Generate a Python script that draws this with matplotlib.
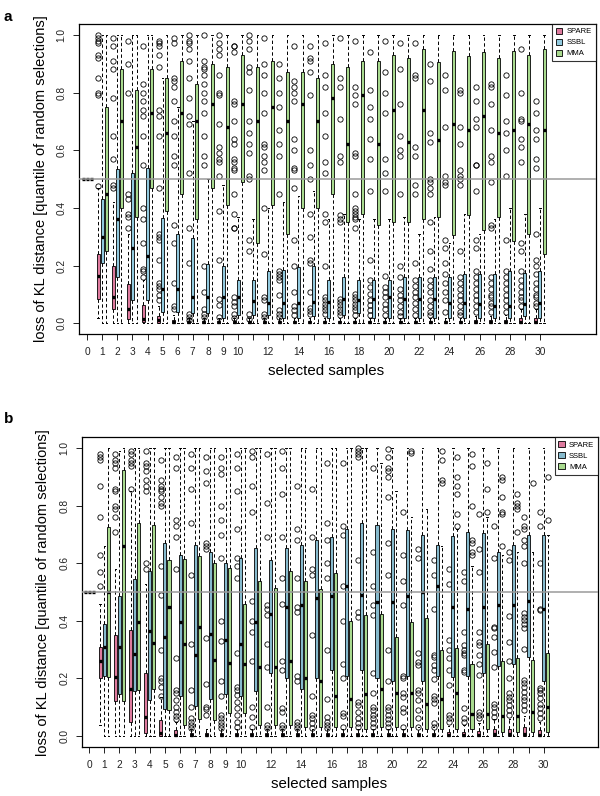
import matplotlib.pyplot as plt
from matplotlib.patches import Patch

plt.rcParams['font.family'] = ['Liberation Sans', 'DejaVu Sans']

# ---- data ----
samples = [0, 1, 2, 3, 4, 5, 6, 7, 8, 9, 10, 11, 12, 13, 14, 15,
           16, 17, 18, 19, 20, 21, 22, 23, 24, 25, 26, 27, 28, 29, 30]
tick_labels = ['0', '1', '2', '3', '4', '5', '6', '7', '8', '9', '10', '', '12', '', '14', '',
               '16', '', '18', '', '20', '', '22', '', '24', '', '26', '', '28', '', '30']
methods = ['SPARE', 'SSBL', 'MMA']

# panel a -- SPARE
a_spare_q1 = [0.5, 0.085, 0.05, 0.015, 0.005, 0.0, 0.0, 0.0, 0.0, 0.0, 0.0, 0.0, 0.0, 0.0, 0.0, 0.0,
              0.0, 0.0, 0.0, 0.0, 0.0, 0.0, 0.0, 0.0, 0.0, 0.0, 0.0, 0.0, 0.0, 0.0, 0.0]
a_spare_med = [0.5, 0.165, 0.09, 0.05, 0.015, 0.01, 0.005, 0.003, 0.003, 0.003, 0.003, 0.003, 0.003, 0.003, 0.003, 0.003,
               0.003, 0.003, 0.003, 0.003, 0.003, 0.003, 0.003, 0.003, 0.003, 0.003, 0.003, 0.003, 0.003, 0.005, 0.005]
a_spare_q3 = [0.5, 0.24, 0.20, 0.135, 0.065, 0.025, 0.012, 0.008, 0.008, 0.008, 0.008, 0.008, 0.008, 0.008, 0.008, 0.008,
              0.008, 0.008, 0.008, 0.008, 0.008, 0.008, 0.008, 0.008, 0.008, 0.008, 0.01, 0.01, 0.012, 0.02, 0.02]
a_spare_lo = [0.5, 0.02, 0.0, 0.0, 0.0, 0.0, 0.0, 0.0, 0.0, 0.0, 0.0, 0.0, 0.0, 0.0, 0.0, 0.0,
              0.0, 0.0, 0.0, 0.0, 0.0, 0.0, 0.0, 0.0, 0.0, 0.0, 0.0, 0.0, 0.0, 0.0, 0.0]
a_spare_hi = [0.5, 0.47, 0.42, 0.31, 0.15, 0.06, 0.03, 0.02, 0.02, 0.02, 0.02, 0.02, 0.02, 0.02, 0.02, 0.02,
              0.02, 0.02, 0.02, 0.02, 0.02, 0.02, 0.02, 0.02, 0.02, 0.02, 0.025, 0.025, 0.03, 0.05, 0.05]
a_spare_out = [
    [],
    [1.0, 0.99, 0.98, 0.97, 0.93, 0.92, 0.85, 0.80, 0.79, 0.475],
    [0.99, 0.96, 0.91, 0.88, 0.78, 0.65, 0.57, 0.48, 0.47],
    [0.98, 0.90, 0.80, 0.45, 0.43, 0.38, 0.37, 0.33],
    [0.96, 0.83, 0.80, 0.77, 0.74, 0.72, 0.65, 0.55, 0.40, 0.36, 0.28, 0.19, 0.18, 0.16],
    [0.98, 0.97, 0.96, 0.93, 0.89, 0.74, 0.72, 0.65, 0.47, 0.31, 0.30, 0.29, 0.22, 0.14, 0.13, 0.12, 0.10, 0.08],
    [0.99, 0.97, 0.85, 0.84, 0.82, 0.77, 0.70, 0.65, 0.58, 0.55, 0.34, 0.28, 0.14, 0.06, 0.05],
    [1.0, 0.98, 0.97, 0.95, 0.91, 0.85, 0.78, 0.72, 0.69, 0.52, 0.33, 0.21, 0.034, 0.022, 0.013],
    [1.0, 0.91, 0.89, 0.88, 0.86, 0.83, 0.80, 0.77, 0.73, 0.65, 0.58, 0.55, 0.20, 0.11, 0.05, 0.034, 0.022],
    [1.0, 0.97, 0.95, 0.93, 0.86, 0.80, 0.79, 0.69, 0.61, 0.59, 0.57, 0.56, 0.51, 0.39, 0.22, 0.086, 0.062, 0.022],
    [0.96, 0.96, 0.94, 0.77, 0.76, 0.70, 0.64, 0.62, 0.57, 0.56, 0.54, 0.53, 0.45, 0.38, 0.33, 0.33, 0.09, 0.074, 0.059, 0.034, 0.02],
    [1.0, 0.98, 0.95, 0.89, 0.87, 0.81, 0.70, 0.66, 0.62, 0.59, 0.51, 0.50, 0.29, 0.25, 0.034, 0.016],
    [0.99, 0.90, 0.86, 0.80, 0.73, 0.62, 0.61, 0.58, 0.56, 0.53, 0.40, 0.24, 0.09, 0.08, 0.034, 0.022],
    [0.90, 0.85, 0.80, 0.75, 0.67, 0.62, 0.58, 0.45, 0.18, 0.17, 0.16, 0.15, 0.10, 0.045, 0.034, 0.022],
    [0.96, 0.84, 0.82, 0.80, 0.77, 0.64, 0.60, 0.54, 0.53, 0.47, 0.29, 0.20, 0.11, 0.06, 0.045, 0.028],
    [0.96, 0.92, 0.91, 0.87, 0.79, 0.60, 0.55, 0.50, 0.38, 0.30, 0.22, 0.21, 0.11, 0.054, 0.043, 0.031],
    [0.97, 0.86, 0.82, 0.73, 0.65, 0.56, 0.52, 0.38, 0.35, 0.20, 0.09, 0.08, 0.068, 0.057, 0.045, 0.034],
    [0.99, 0.85, 0.82, 0.71, 0.58, 0.56, 0.375, 0.363, 0.352, 0.086, 0.074, 0.062, 0.051, 0.039, 0.028],
    [0.98, 0.82, 0.79, 0.76, 0.59, 0.58, 0.45, 0.40, 0.39, 0.38, 0.37, 0.36, 0.33, 0.103, 0.091, 0.08, 0.068, 0.057, 0.045, 0.028],
    [0.94, 0.81, 0.75, 0.71, 0.64, 0.57, 0.46, 0.22, 0.15, 0.126, 0.103, 0.08, 0.062, 0.045, 0.028],
    [0.98, 0.87, 0.80, 0.73, 0.57, 0.52, 0.46, 0.163, 0.126, 0.109, 0.091, 0.068, 0.051, 0.028],
    [0.97, 0.88, 0.76, 0.65, 0.60, 0.58, 0.45, 0.20, 0.16, 0.12, 0.10, 0.08, 0.06, 0.04, 0.025],
    [0.97, 0.86, 0.85, 0.61, 0.58, 0.48, 0.45, 0.21, 0.15, 0.13, 0.11, 0.09, 0.07, 0.05, 0.03],
    [0.90, 0.84, 0.66, 0.63, 0.50, 0.49, 0.47, 0.45, 0.35, 0.25, 0.19, 0.15, 0.13, 0.11, 0.08, 0.06, 0.04, 0.03],
    [0.86, 0.81, 0.68, 0.51, 0.49, 0.48, 0.29, 0.26, 0.21, 0.17, 0.14, 0.11, 0.08, 0.04],
    [0.81, 0.80, 0.68, 0.62, 0.53, 0.51, 0.50, 0.48, 0.25, 0.16, 0.14, 0.12, 0.10, 0.08, 0.06, 0.04, 0.03],
    [0.82, 0.77, 0.71, 0.68, 0.55, 0.55, 0.46, 0.29, 0.26, 0.18, 0.16, 0.14, 0.12, 0.10, 0.08, 0.06, 0.04],
    [0.83, 0.82, 0.76, 0.67, 0.58, 0.56, 0.49, 0.34, 0.33, 0.16, 0.14, 0.12, 0.10, 0.09, 0.07, 0.06, 0.04],
    [0.86, 0.79, 0.70, 0.66, 0.60, 0.51, 0.29, 0.18, 0.16, 0.14, 0.12, 0.10, 0.08, 0.06, 0.04],
    [0.95, 0.80, 0.71, 0.70, 0.64, 0.61, 0.56, 0.28, 0.25, 0.18, 0.15, 0.13, 0.11, 0.09, 0.08, 0.06],
    [0.77, 0.73, 0.67, 0.64, 0.57, 0.54, 0.31, 0.22, 0.20, 0.17, 0.14, 0.12, 0.10, 0.09, 0.07, 0.06],
]

# panel a -- SSBL
a_ssbl_q1 = [0.5, 0.21, 0.16, 0.08, 0.08, 0.04, 0.04, 0.035, 0.035, 0.02, 0.03, 0.03, 0.03, 0.02, 0.02, 0.025,
             0.02, 0.03, 0.035, 0.02, 0.02, 0.02, 0.02, 0.02, 0.02, 0.02, 0.02, 0.02, 0.02, 0.025, 0.02]
a_ssbl_med = [0.5, 0.30, 0.36, 0.26, 0.235, 0.12, 0.12, 0.09, 0.09, 0.09, 0.09, 0.077, 0.072, 0.07, 0.072, 0.075,
              0.075, 0.083, 0.08, 0.083, 0.09, 0.083, 0.086, 0.083, 0.072, 0.072, 0.066, 0.06, 0.06, 0.066, 0.072]
a_ssbl_q3 = [0.5, 0.43, 0.535, 0.52, 0.54, 0.365, 0.31, 0.295, 0.205, 0.20, 0.15, 0.15, 0.18, 0.185, 0.195, 0.20,
             0.15, 0.16, 0.15, 0.15, 0.15, 0.16, 0.16, 0.16, 0.16, 0.17, 0.17, 0.17, 0.18, 0.175, 0.18]
a_ssbl_lo = [0.5, 0.0, 0.0, 0.0, 0.0, 0.0, 0.0, 0.0, 0.0, 0.0, 0.0, 0.0, 0.0, 0.0, 0.0, 0.0,
             0.0, 0.0, 0.0, 0.0, 0.0, 0.0, 0.0, 0.0, 0.0, 0.0, 0.0, 0.0, 0.0, 0.0, 0.0]
a_ssbl_hi = [0.5, 1.0, 1.0, 1.0, 1.0, 0.85, 0.75, 0.70, 0.50, 0.48, 0.37, 0.36, 0.40, 0.42, 0.44, 0.46,
             0.36, 0.38, 0.36, 0.36, 0.36, 0.37, 0.31, 0.37, 0.28, 0.38, 0.31, 0.36, 0.40, 0.38, 0.40]

# panel a -- MMA
a_mma_q1 = [0.5, 0.25, 0.40, 0.37, 0.47, 0.39, 0.45, 0.36, 0.47, 0.41, 0.49, 0.28, 0.41, 0.31, 0.40, 0.40,
            0.45, 0.35, 0.38, 0.34, 0.35, 0.35, 0.36, 0.37, 0.305, 0.375, 0.325, 0.37, 0.285, 0.31, 0.24]
a_mma_med = [0.5, 0.45, 0.70, 0.61, 0.73, 0.66, 0.73, 0.70, 0.76, 0.68, 0.76, 0.70, 0.75, 0.70, 0.76, 0.70,
             0.78, 0.62, 0.79, 0.62, 0.74, 0.63, 0.74, 0.635, 0.69, 0.67, 0.72, 0.66, 0.67, 0.69, 0.67]
a_mma_q3 = [0.5, 0.75, 0.88, 0.81, 0.88, 0.85, 0.91, 0.83, 0.90, 0.89, 0.93, 0.89, 0.91, 0.87, 0.87, 0.85,
            0.90, 0.89, 0.91, 0.91, 0.93, 0.92, 0.95, 0.905, 0.945, 0.925, 0.94, 0.92, 0.945, 0.93, 0.95]
a_mma_lo = [0.5, 0.0, 0.0, 0.0, 0.0, 0.0, 0.0, 0.0, 0.0, 0.0, 0.0, 0.0, 0.0, 0.0, 0.0, 0.0,
            0.0, 0.0, 0.0, 0.0, 0.0, 0.0, 0.0, 0.0, 0.0, 0.0, 0.0, 0.0, 0.0, 0.0, 0.0]
a_mma_hi = [0.5, 1.0, 1.0, 1.0, 1.0, 1.0, 1.0, 1.0, 1.0, 1.0, 1.0, 1.0, 1.0, 1.0, 1.0, 1.0,
            1.0, 1.0, 1.0, 1.0, 1.0, 1.0, 1.0, 1.0, 1.0, 1.0, 1.0, 1.0, 1.0, 1.0, 1.0]

# panel b -- SPARE
b_spare_q1 = [0.5, 0.20, 0.12, 0.05, 0.01, 0.0, 0.0, 0.0, 0.0, 0.0, 0.0, 0.0, 0.0, 0.0, 0.0, 0.0,
              0.0, 0.0, 0.0, 0.0, 0.0, 0.0, 0.0, 0.0, 0.0, 0.0, 0.0, 0.0, 0.0, 0.0, 0.0]
b_spare_med = [0.5, 0.26, 0.205, 0.165, 0.065, 0.01, 0.004, 0.003, 0.003, 0.003, 0.003, 0.003, 0.003, 0.003, 0.003, 0.003,
               0.003, 0.003, 0.003, 0.003, 0.003, 0.003, 0.003, 0.003, 0.004, 0.004, 0.005, 0.006, 0.006, 0.007, 0.005]
b_spare_q3 = [0.5, 0.31, 0.35, 0.37, 0.22, 0.055, 0.02, 0.01, 0.01, 0.01, 0.01, 0.01, 0.01, 0.01, 0.01, 0.01,
              0.01, 0.01, 0.01, 0.01, 0.01, 0.01, 0.012, 0.012, 0.015, 0.015, 0.018, 0.025, 0.025, 0.03, 0.02]
b_spare_lo = [0.5, 0.04, 0.0, 0.0, 0.0, 0.0, 0.0, 0.0, 0.0, 0.0, 0.0, 0.0, 0.0, 0.0, 0.0, 0.0,
              0.0, 0.0, 0.0, 0.0, 0.0, 0.0, 0.0, 0.0, 0.0, 0.0, 0.0, 0.0, 0.0, 0.0, 0.0]
b_spare_hi = [0.5, 0.46, 0.58, 0.85, 0.53, 0.135, 0.05, 0.025, 0.025, 0.025, 0.025, 0.025, 0.025, 0.025, 0.025, 0.025,
              0.025, 0.025, 0.025, 0.025, 0.025, 0.025, 0.03, 0.03, 0.035, 0.04, 0.045, 0.06, 0.06, 0.07, 0.05]
b_spare_out = [
    [],
    [0.98, 0.97, 0.96, 0.87, 0.76, 0.63, 0.57, 0.52],
    [0.98, 0.96, 0.95, 0.93, 0.86, 0.85, 0.80, 0.79, 0.76, 0.71],
    [0.99, 0.98, 0.96, 0.95, 0.94, 0.86],
    [0.99, 0.95, 0.94, 0.92, 0.89, 0.87, 0.85, 0.60, 0.58],
    [0.96, 0.89, 0.87, 0.86, 0.85, 0.83, 0.81, 0.80, 0.59, 0.49, 0.30, 0.20, 0.19, 0.17, 0.14],
    [0.97, 0.93, 0.75, 0.73, 0.69, 0.58, 0.27, 0.16, 0.15, 0.125, 0.10, 0.085, 0.07, 0.06],
    [0.98, 0.93, 0.86, 0.74, 0.56, 0.32, 0.16, 0.10, 0.061, 0.05, 0.038, 0.027],
    [0.97, 0.92, 0.88, 0.67, 0.66, 0.65, 0.34, 0.18, 0.10, 0.093, 0.073],
    [0.97, 0.93, 0.91, 0.80, 0.75, 0.70, 0.62, 0.40, 0.33, 0.19, 0.14, 0.073, 0.061, 0.05, 0.038, 0.027],
    [0.98, 0.93, 0.85, 0.72, 0.62, 0.59, 0.55, 0.29, 0.17, 0.16, 0.143, 0.119, 0.096, 0.073, 0.05, 0.032],
    [0.99, 0.97, 0.87, 0.78, 0.47, 0.40, 0.36, 0.26, 0.102, 0.067, 0.032],
    [0.98, 0.81, 0.69, 0.455, 0.443, 0.42, 0.32, 0.24, 0.102, 0.038, 0.027],
    [0.99, 0.93, 0.84, 0.69, 0.55, 0.46, 0.26, 0.23, 0.096, 0.085, 0.038, 0.027],
    [0.87, 0.72, 0.68, 0.55, 0.45, 0.43, 0.21, 0.19, 0.05, 0.038, 0.027],
    [0.86, 0.69, 0.58, 0.56, 0.35, 0.14, 0.073, 0.061, 0.044, 0.027],
    [0.95, 0.74, 0.68, 0.60, 0.55, 0.30, 0.13, 0.067, 0.05, 0.038, 0.027],
    [0.95, 0.73, 0.70, 0.52, 0.40, 0.25, 0.20, 0.079, 0.07, 0.032],
    [1.0, 0.99, 0.98, 0.97, 0.61, 0.43, 0.414, 0.119, 0.108, 0.085, 0.061, 0.044, 0.032],
    [0.93, 0.64, 0.52, 0.455, 0.42, 0.22, 0.15, 0.102, 0.09, 0.073, 0.061, 0.044, 0.032],
    [0.998, 0.97, 0.93, 0.92, 0.90, 0.83, 0.67, 0.56, 0.30, 0.19, 0.10, 0.09, 0.073, 0.058, 0.044, 0.032],
    [0.78, 0.63, 0.54, 0.455, 0.21, 0.20, 0.15, 0.137, 0.096, 0.085, 0.032],
    [0.65, 0.62, 0.29, 0.258, 0.247, 0.16, 0.148, 0.125, 0.09, 0.061, 0.032],
    [0.61, 0.56, 0.443, 0.281, 0.276, 0.247, 0.229, 0.197, 0.139, 0.127, 0.116, 0.044, 0.032],
    [0.58, 0.53, 0.333, 0.299, 0.27, 0.229, 0.177, 0.073, 0.061, 0.05],
    [0.57, 0.54, 0.362, 0.316, 0.299, 0.287, 0.281, 0.229, 0.223, 0.096, 0.061, 0.05],
    [0.77, 0.65, 0.57, 0.362, 0.328, 0.316, 0.281, 0.252, 0.212, 0.085, 0.073, 0.061],
    [0.73, 0.62, 0.38, 0.374, 0.345, 0.293, 0.241, 0.113, 0.102, 0.085, 0.067],
    [0.64, 0.61, 0.417, 0.328, 0.262, 0.20, 0.148, 0.137, 0.125, 0.108, 0.09, 0.073],
    [0.76, 0.73, 0.72, 0.68, 0.66, 0.60, 0.426, 0.414, 0.403, 0.391, 0.374, 0.301, 0.194, 0.183, 0.171,
     0.154, 0.137, 0.125, 0.108, 0.09],
    [0.78, 0.73, 0.60, 0.443, 0.438, 0.166, 0.16, 0.148, 0.131, 0.113, 0.096, 0.079, 0.061],
]

# panel b -- SSBL
b_ssbl_q1 = [0.5, 0.21, 0.145, 0.155, 0.125, 0.095, 0.14, 0.105, 0.13, 0.145, 0.14, 0.155, 0.22, 0.20, 0.165, 0.20,
             0.23, 0.21, 0.23, 0.20, 0.19, 0.21, 0.19, 0.21, 0.205, 0.21, 0.22, 0.245, 0.25, 0.275, 0.19]
b_ssbl_med = [0.5, 0.31, 0.31, 0.285, 0.365, 0.345, 0.395, 0.28, 0.355, 0.335, 0.32, 0.395, 0.425, 0.45, 0.455, 0.48,
              0.485, 0.52, 0.49, 0.465, 0.465, 0.485, 0.50, 0.52, 0.45, 0.44, 0.45, 0.455, 0.455, 0.47, 0.44]
b_ssbl_q3 = [0.5, 0.39, 0.485, 0.545, 0.575, 0.67, 0.63, 0.665, 0.64, 0.60, 0.62, 0.655, 0.61, 0.655, 0.665, 0.68,
             0.69, 0.72, 0.74, 0.735, 0.72, 0.715, 0.70, 0.665, 0.695, 0.71, 0.705, 0.64, 0.665, 0.70, 0.70]
b_ssbl_lo = [0.5, 0.0, 0.0, 0.0, 0.0, 0.0, 0.0, 0.0, 0.0, 0.0, 0.0, 0.0, 0.0, 0.0, 0.0, 0.0,
             0.0, 0.0, 0.0, 0.0, 0.0, 0.0, 0.0, 0.0, 0.0, 0.0, 0.0, 0.0, 0.0, 0.0, 0.0]
b_ssbl_hi = [0.5, 0.66, 0.99, 1.0, 1.0, 1.0, 1.0, 1.0, 1.0, 1.0, 1.0, 1.0, 1.0, 1.0, 1.0, 1.0,
             1.0, 1.0, 1.0, 1.0, 1.0, 1.0, 1.0, 1.0, 1.0, 1.0, 1.0, 1.0, 1.0, 1.0, 1.0]

# panel b -- MMA
b_mma_q1 = [0.5, 0.205, 0.12, 0.16, 0.165, 0.09, 0.04, 0.06, 0.055, 0.08, 0.08, 0.04, 0.04, 0.04, 0.03, 0.03,
            0.03, 0.03, 0.025, 0.03, 0.03, 0.03, 0.025, 0.025, 0.025, 0.025, 0.025, 0.015, 0.015, 0.015, 0.015]
b_mma_med = [0.5, 0.50, 0.66, 0.395, 0.325, 0.45, 0.32, 0.38, 0.265, 0.255, 0.25, 0.24, 0.24, 0.26, 0.20, 0.19,
             0.14, 0.13, 0.145, 0.165, 0.15, 0.15, 0.11, 0.13, 0.15, 0.075, 0.075, 0.07, 0.07, 0.085, 0.10]
b_mma_q3 = [0.5, 0.725, 0.925, 0.74, 0.735, 0.61, 0.615, 0.625, 0.60, 0.585, 0.46, 0.54, 0.515, 0.575, 0.54, 0.51,
            0.565, 0.40, 0.42, 0.425, 0.345, 0.395, 0.41, 0.30, 0.305, 0.25, 0.32, 0.26, 0.27, 0.265, 0.29]
b_mma_lo = [0.5, 0.0, 0.0, 0.0, 0.0, 0.0, 0.0, 0.0, 0.0, 0.0, 0.0, 0.0, 0.0, 0.0, 0.0, 0.0,
            0.0, 0.0, 0.0, 0.0, 0.0, 0.0, 0.0, 0.0, 0.0, 0.0, 0.0, 0.0, 0.0, 0.0, 0.0]
b_mma_hi = [0.5, 1.0, 1.0, 1.0, 1.0, 1.0, 1.0, 1.0, 1.0, 1.0, 1.0, 1.0, 1.0, 1.0, 1.0, 1.0,
            1.0, 1.0, 1.0, 0.95, 0.85, 0.76, 0.79, 0.66, 0.72, 0.59, 0.76, 0.63, 0.64, 0.64, 0.70]
b_mma_out = [[], [], [], [], [], [], [], [], [], [], [], [], [], [], [], [],
             [], [], [], [], [],
             [0.99, 0.985],
             [],
             [0.99, 0.96, 0.89, 0.88],
             [0.97, 0.90, 0.87, 0.84, 0.77, 0.73],
             [0.98, 0.94, 0.80, 0.68, 0.67, 0.64, 0.63],
             [0.95, 0.86, 0.78],
             [0.90, 0.89, 0.83, 0.78, 0.77, 0.66],
             [0.84, 0.81, 0.80, 0.79, 0.71],
             [0.88],
             [0.90, 0.75]]

no_out = [[], [], [], [], [], [], [], [], [], [], [], [], [], [], [], [],
          [], [], [], [], [], [], [], [], [], [], [], [], [], [], []]

# ---- style ----
colors = ['#DE7A9E', '#92CADF', '#A8DA8E']
colors_b = ['#DE7A9E', '#86BACD', '#A8DA8E']
offsets = [-0.27, 0.0, 0.27]


def make_stats(q1, med, q3, lo, hi, out):
    return [dict(q1=q1[i], med=med[i], q3=q3[i], whislo=lo[i], whishi=hi[i], fliers=out[i])
            for i in range(len(samples))]


def draw_panel(ax, all_stats, cols):
    for stats, col, off in zip(all_stats, cols, offsets):
        ax.bxp(stats, positions=[s + off for s in samples], widths=0.2, capwidths=0.1,
               patch_artist=True, manage_ticks=False,
               boxprops=dict(facecolor=col, edgecolor='black', linewidth=0.6),
               whiskerprops=dict(color='black', linewidth=0.7, linestyle=(0, (3.5, 2.5))),
               capprops=dict(color='black', linewidth=0.7),
               medianprops=dict(color='black', linewidth=2.4, solid_capstyle='butt'),
               flierprops=dict(marker='o', markerfacecolor='none', markeredgecolor='black',
                               markersize=3.8, markeredgewidth=0.6))
    ax.axhline(0.5, color='#9a9a9a', linewidth=1.1, zorder=5)
    ax.set_ylim(-0.038, 1.038)
    ax.set_xticks(samples)
    ax.set_xticklabels(tick_labels)
    ax.set_yticks([0.0, 0.2, 0.4, 0.6, 0.8, 1.0])
    ax.set_yticklabels(['0.0', '0.2', '0.4', '0.6', '0.8', '1.0'], rotation=90, va='center')
    ax.tick_params(axis='both', labelsize=7.3, length=4.3, width=0.7, pad=5, colors='#222222')
    ax.set_xlabel('selected samples', fontsize=10.8)
    ax.set_ylabel('loss of KL distance [quantile of random selections]', fontsize=10.5)
    for sp in ax.spines.values():
        sp.set_linewidth(0.9)
    handles = [Patch(facecolor=c, edgecolor='black', linewidth=0.6) for c in cols]
    leg = ax.legend(handles, methods, loc='upper right', fontsize=5.5, frameon=True, fancybox=False,
                    handlelength=0.8, handleheight=0.8, handletextpad=0.6, borderpad=0.5,
                    labelspacing=0.45, borderaxespad=0)
    leg.get_frame().set_edgecolor('black')
    leg.get_frame().set_linewidth(0.8)


fig = plt.figure(figsize=(6.0, 7.96), dpi=100)
ax_a = fig.add_axes([0.132, 0.580, 0.861, 0.390])
ax_b = fig.add_axes([0.137, 0.0616, 0.860, 0.389])

stats_a = [make_stats(a_spare_q1, a_spare_med, a_spare_q3, a_spare_lo, a_spare_hi, a_spare_out),
           make_stats(a_ssbl_q1, a_ssbl_med, a_ssbl_q3, a_ssbl_lo, a_ssbl_hi, no_out),
           make_stats(a_mma_q1, a_mma_med, a_mma_q3, a_mma_lo, a_mma_hi, no_out)]
stats_b = [make_stats(b_spare_q1, b_spare_med, b_spare_q3, b_spare_lo, b_spare_hi, b_spare_out),
           make_stats(b_ssbl_q1, b_ssbl_med, b_ssbl_q3, b_ssbl_lo, b_ssbl_hi, no_out),
           make_stats(b_mma_q1, b_mma_med, b_mma_q3, b_mma_lo, b_mma_hi, b_mma_out)]

draw_panel(ax_a, stats_a, colors)
ax_a.set_xlim(-0.53, 33.7)
ax_a.xaxis.set_label_coords(0.478, -0.097)
ax_a.yaxis.set_label_coords(-0.060, 0.5)

draw_panel(ax_b, stats_b, colors_b)
ax_b.set_xlim(-0.46, 33.6)
ax_b.xaxis.set_label_coords(0.479, -0.097)
ax_b.yaxis.set_label_coords(-0.062, 0.5)

fig.text(0.006, 0.988, 'a', fontsize=11, fontweight='bold', va='top')
fig.text(0.006, 0.483, 'b', fontsize=11, fontweight='bold', va='top')

fig.savefig('out.png', dpi=100)
